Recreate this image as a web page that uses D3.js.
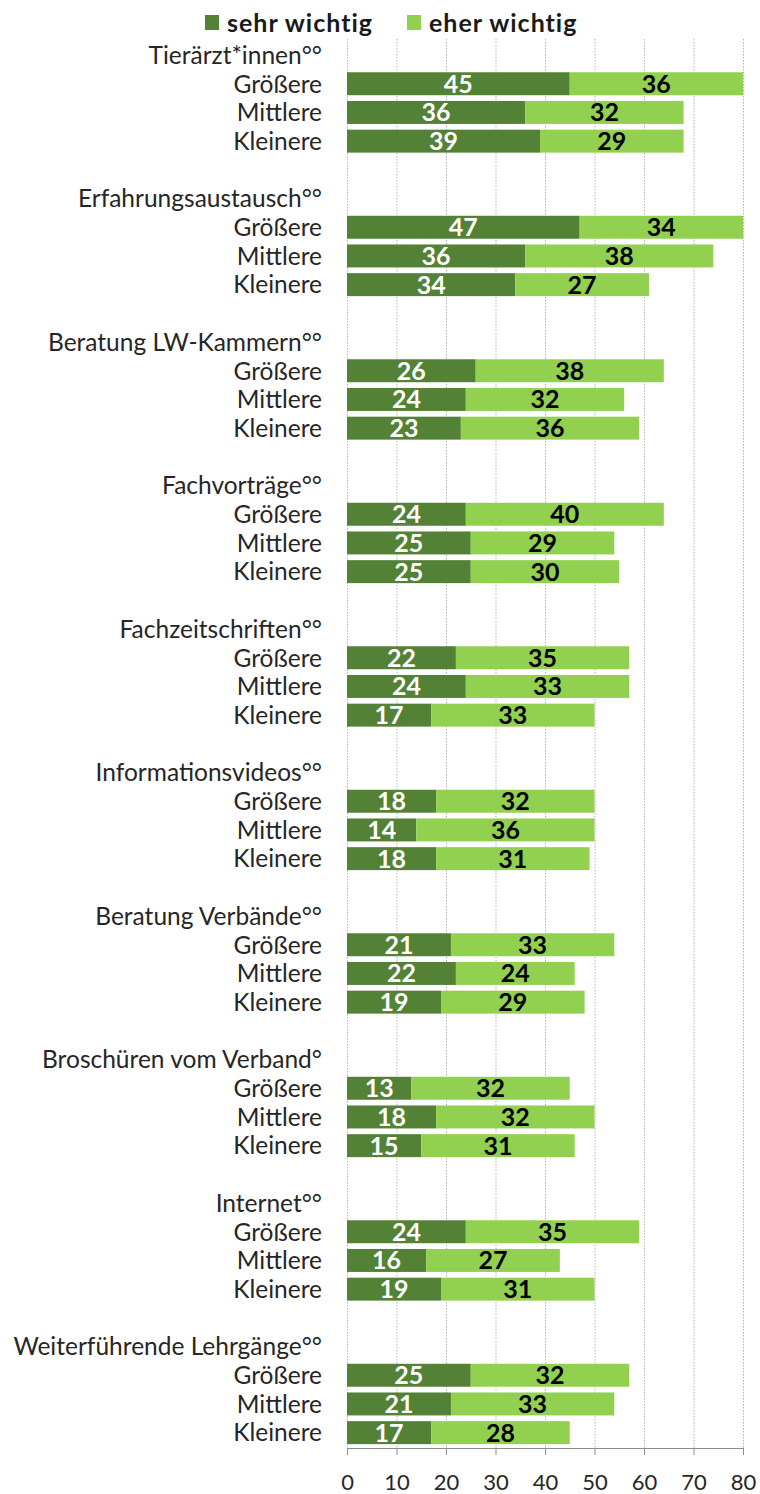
<!DOCTYPE html>
<html><head><meta charset="utf-8">
<script src="https://cdn.jsdelivr.net/npm/d3@7"></script>
<style>
html,body{margin:0;padding:0;background:#fff;}
svg{display:block;font-family:Lato, "Open Sans", sans-serif;}
</style></head>
<body>
<svg id="chart" width="760" height="1494"></svg>
<script>
const groups = ["Tierärzt*innen°°","Erfahrungsaustausch°°","Beratung LW-Kammern°°","Fachvorträge°°","Fachzeitschriften°°","Informationsvideos°°","Beratung Verbände°°","Broschüren vom Verband°","Internet°°","Weiterführende Lehrgänge°°"];
const sizes = ["Größere","Mittlere","Kleinere"];
const seriesNames = ["sehr wichtig","eher wichtig"];
const sehrWichtig = [[45,36,39],[47,36,34],[26,24,23],[24,25,25],[22,24,17],[18,14,18],[21,22,19],[13,18,15],[24,16,19],[25,21,17]];
const eherWichtig = [[36,32,29],[34,38,27],[38,32,36],[40,29,30],[35,33,33],[32,36,31],[33,24,29],[32,32,31],[35,27,31],[32,33,28]];
const xTicks = [0,10,20,30,40,50,60,70,80];

const colors = ["#538135","#92D050"];
const svg = d3.select("#chart");

// build row list
const rows = [];
groups.forEach((g,gi)=>{
  if(gi>0) rows.push({id:"blank"+gi,type:"blank"});
  rows.push({id:"h"+gi,type:"header",label:g});
  sizes.forEach((s,si)=>rows.push({id:"r"+gi+"_"+si,type:"bar",label:s,vals:[sehrWichtig[gi][si],eherWichtig[gi][si]]}));
});

const x = d3.scaleLinear().domain([0,80]).range([347,743]);
const y = d3.scaleBand().domain(rows.map(r=>r.id)).range([40.7,1447]).paddingInner(0.2).paddingOuter(0.1);

// gridlines
svg.append("g").selectAll("line").data(xTicks).join("line")
  .attr("x1",d=>x(d)+0.5).attr("x2",d=>x(d)+0.5)
  .attr("y1",39).attr("y2",1448)
  .attr("stroke","#b3b3b3").attr("stroke-width",1).attr("stroke-dasharray","1.5,1.5");

// bars
const barRows = rows.filter(r=>r.type==="bar");
const segs = [];
barRows.forEach(r=>{
  let start=0;
  r.vals.forEach((v,i)=>{
    const end=start+v;
    segs.push({row:r.id,i,v,x0:start,x1:Math.min(end,80)});
    start=end;
  });
});
svg.append("g").selectAll("rect").data(segs).join("rect")
  .attr("x",d=>x(d.x0)).attr("width",d=>Math.max(0,x(d.x1)-x(d.x0)))
  .attr("y",d=>y(d.row)).attr("height",y.bandwidth())
  .attr("fill",d=>colors[d.i]);

svg.append("g").selectAll("text").data(segs).join("text")
  .attr("x",d=>(x(d.x0)+x(d.x1))/2).attr("y",d=>y(d.row)+y.bandwidth()/2)
  .attr("dy","0.36em").attr("text-anchor","middle")
  .attr("font-size",25).attr("font-weight","bold")
  .attr("fill",d=>d.i===0?"#fff":"#000")
  .text(d=>d.v);

// row labels
svg.append("g").selectAll("text").data(rows.filter(r=>r.type!=="blank")).join("text")
  .attr("x",322).attr("y",d=>y(d.id)+y.bandwidth()/2)
  .attr("dy","0.36em").attr("text-anchor","end")
  .attr("font-size",24.5).attr("fill","#262626")
  .text(d=>d.label);

// x axis
const ax = svg.append("g").attr("transform","translate(0,1448)")
  .call(d3.axisBottom(x).tickValues(xTicks).tickSize(7).tickPadding(19).tickSizeOuter(0));
ax.select(".domain").attr("stroke","#8c8c8c");
ax.selectAll(".tick line").attr("stroke","#8c8c8c");
ax.selectAll(".tick text").attr("font-size",22).attr("fill","#262626").attr("font-family","Lato, sans-serif");

// legend
const leg = svg.append("g");
const legX = [205,407];
seriesNames.forEach((n,i)=>{
  leg.append("rect").attr("x",legX[i]).attr("y",15).attr("width",14).attr("height",15).attr("fill",colors[i]);
  leg.append("text").attr("x",legX[i]+22).attr("y",22.5).attr("dy","0.36em")
    .attr("font-size",25).attr("font-weight","bold").attr("letter-spacing",1).attr("fill","#1a1a1a").text(n);
});
</script>
</body></html>
